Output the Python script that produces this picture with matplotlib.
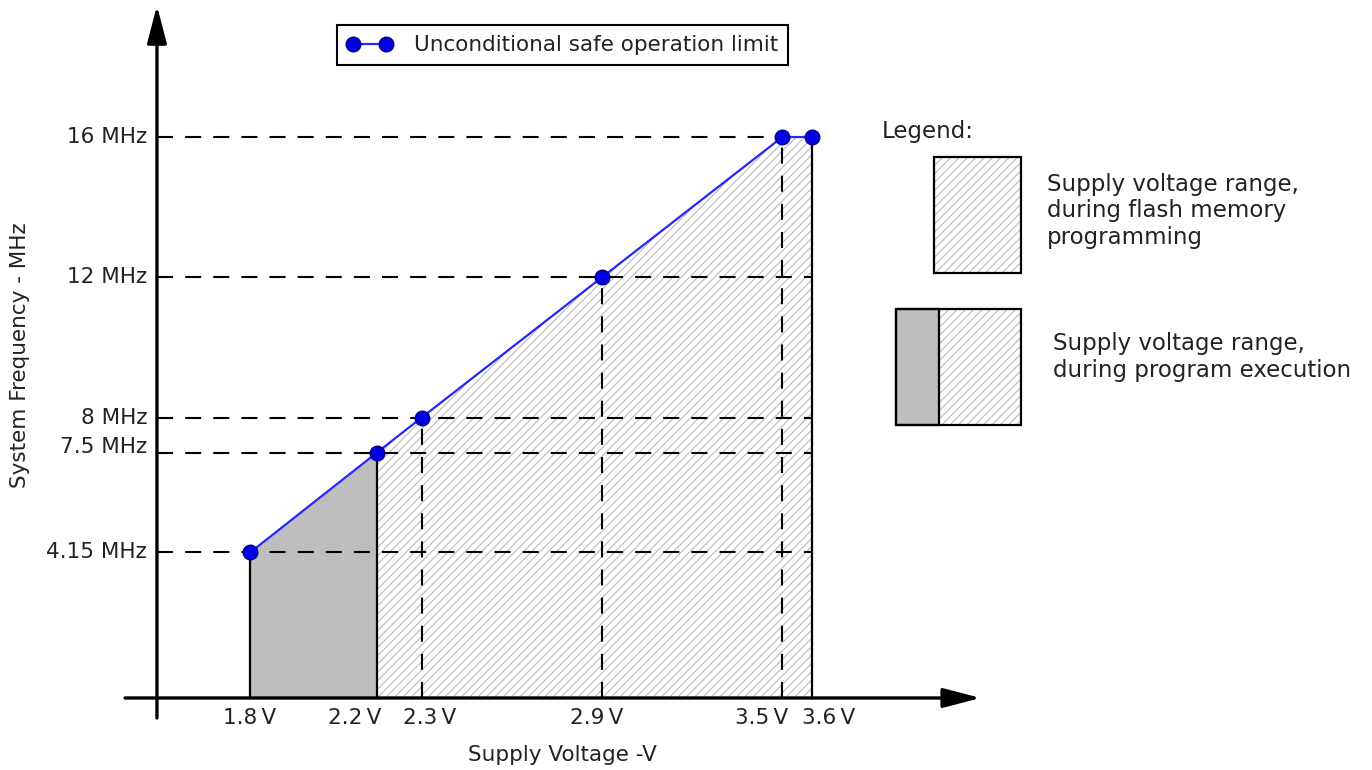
import numpy as np
import matplotlib.pyplot as plt
from matplotlib.patches import Rectangle

# unconditional safe operation limit: supply voltage (V) vs. clock (MHz)
volts = [1.8, 2.2, 2.3, 2.9, 3.5, 3.6]
freqs = [4.15, 7.5, 8, 12, 16, 16]
vlabels = ["1.8\u2009V", "2.2\u2009V", "2.3\u2009V", "2.9\u2009V", "3.5\u2009V", "3.6\u2009V"]
flevels = [4.15, 7.5, 8, 12, 16]
flabels = ["4.15 MHz", "7.5 MHz", "8 MHz", "12 MHz", "16 MHz"]

# the original sketch is not to scale, so use piecewise axes to keep its spacing
vknots = [-10, 1.8, 2.2, 2.3, 20]
vdraw = [-10.071, 1.729, 2.151, 2.3, 20]
fknots = [-10, 4.15, 7.5, 8, 30]
fdraw = [-10, 4.15, 7.0, 8, 30]

V0 = 1.49  # where the frequency axis sits
# label nudges (points) so crowded tick labels don't collide
vnudge = [0, -16, 6, -4, -15, 12]
fnudge = [0, 4, 0, 0, 0]

txtc = '#222222'
fs = 15.5
fs_key = 16.5
hatchc = '#bababa'
plt.rcParams['font.family'] = ['DejaVu Sans']
plt.rcParams['hatch.color'] = hatchc
plt.rcParams['hatch.linewidth'] = 0.8

fig = plt.figure(figsize=(13.72, 7.70), dpi=100)
ax = fig.add_axes([0, 0, 1, 1])
ax.set_xscale('function', functions=(lambda x: np.interp(x, vknots, vdraw),
                                     lambda x: np.interp(x, vdraw, vknots)))
ax.set_yscale('function', functions=(lambda y: np.interp(y, fknots, fdraw),
                                     lambda y: np.interp(y, fdraw, fknots)))
ax.set_xlim(0.9677, 5.4624)
ax.set_ylim(-2.054, 19.909)
ax.set_axis_off()

# program execution range (grey) and flash programming range (hatched)
ax.fill_between(volts[:2], freqs[:2], color='#bebebe', lw=0, zorder=1)
ax.fill_between(volts[1:], freqs[1:], facecolor='none', edgecolor=hatchc,
                lw=0, hatch='////', zorder=1)

dash = dict(color='black', lw=1.5, dashes=(7.7, 5.8), zorder=2)
for f in flevels:
    ax.plot([V0, volts[-1]], [f, f], **dash)
for v, f in zip(volts[2:5], freqs[2:5]):
    ax.plot([v, v], [0, f], **dash)
for i in [0, 1, 5]:
    ax.plot([volts[i], volts[i]], [0, freqs[i]], color='black', lw=1.6, zorder=3)

ax.plot(volts, freqs, color='#2626ff', lw=1.6, marker='o', ms=10.5,
        mfc='#0000e0', mec='#00008b', mew=1, zorder=5,
        label='Unconditional safe operation limit')

# axes with arrow heads
arr = dict(arrowstyle='-|>,head_length=2.3,head_width=0.6', color='black',
           lw=2.4, shrinkA=0, shrinkB=0, mutation_scale=10)
ax.annotate('', xy=(V0, 19.75), xytext=(V0, -0.57), arrowprops=arr)
ax.annotate('', xy=(4.16, 0), xytext=(1.384, 0), arrowprops=arr)

for v, lab, dx in zip(volts, vlabels, vnudge):
    ax.annotate(lab, (v, 0), xytext=(dx, -14.5), textcoords='offset points',
                ha='center', va='center', fontsize=fs, color=txtc)
for f, lab, dy in zip(flevels, flabels, fnudge):
    ax.annotate(lab, (V0, f), xytext=(-7, dy), textcoords='offset points',
                ha='right', va='center', fontsize=fs, color=txtc)

ax.text(0.0146, 0.539, 'System Frequency - MHz', rotation=90, ha='center',
        va='center', fontsize=fs, color=txtc, transform=ax.transAxes)
ax.text(0.41, 0.0195, 'Supply Voltage -V', ha='center', va='center',
        fontsize=fs, color=txtc, transform=ax.transAxes)

leg = ax.legend(loc='upper center', bbox_to_anchor=(0.41, 0.967), fancybox=False,
                edgecolor='black', framealpha=1, numpoints=2, handlelength=2.1,
                handletextpad=1.0, borderpad=0.45, borderaxespad=0,
                fontsize=fs, labelcolor=txtc)
leg.get_frame().set_linewidth(1.5)

# hand drawn key on the right
ax.text(0.6429, 0.8286, 'Legend:', ha='left', va='center', fontsize=fs_key,
        color=txtc, transform=ax.transAxes)
boxes = [(0.6808, 0.6455, 0.0634, 0.1506, None),
         (0.6531, 0.4480, 0.0911, 0.1507, 0.0313)]
for x, y, w, h, g in boxes:
    ax.add_patch(Rectangle((x, y), w, h, transform=ax.transAxes, facecolor='none',
                           edgecolor=hatchc, lw=0, hatch='////', zorder=1))
    if g:
        ax.add_patch(Rectangle((x, y), g, h, transform=ax.transAxes,
                               facecolor='#bebebe', edgecolor='black', lw=1.6, zorder=2))
    ax.add_patch(Rectangle((x, y), w, h, transform=ax.transAxes, facecolor='none',
                           edgecolor='black', lw=1.6, zorder=3))

ax.text(0.7631, 0.726, 'Supply voltage range,\nduring flash memory\nprogramming',
        ha='left', va='center', fontsize=fs_key, color=txtc, linespacing=1.2,
        transform=ax.transAxes)
ax.text(0.7675, 0.5364, 'Supply voltage range,\nduring program execution',
        ha='left', va='center', fontsize=fs_key, color=txtc, linespacing=1.2,
        transform=ax.transAxes)

fig.savefig('out.png', dpi=100)
